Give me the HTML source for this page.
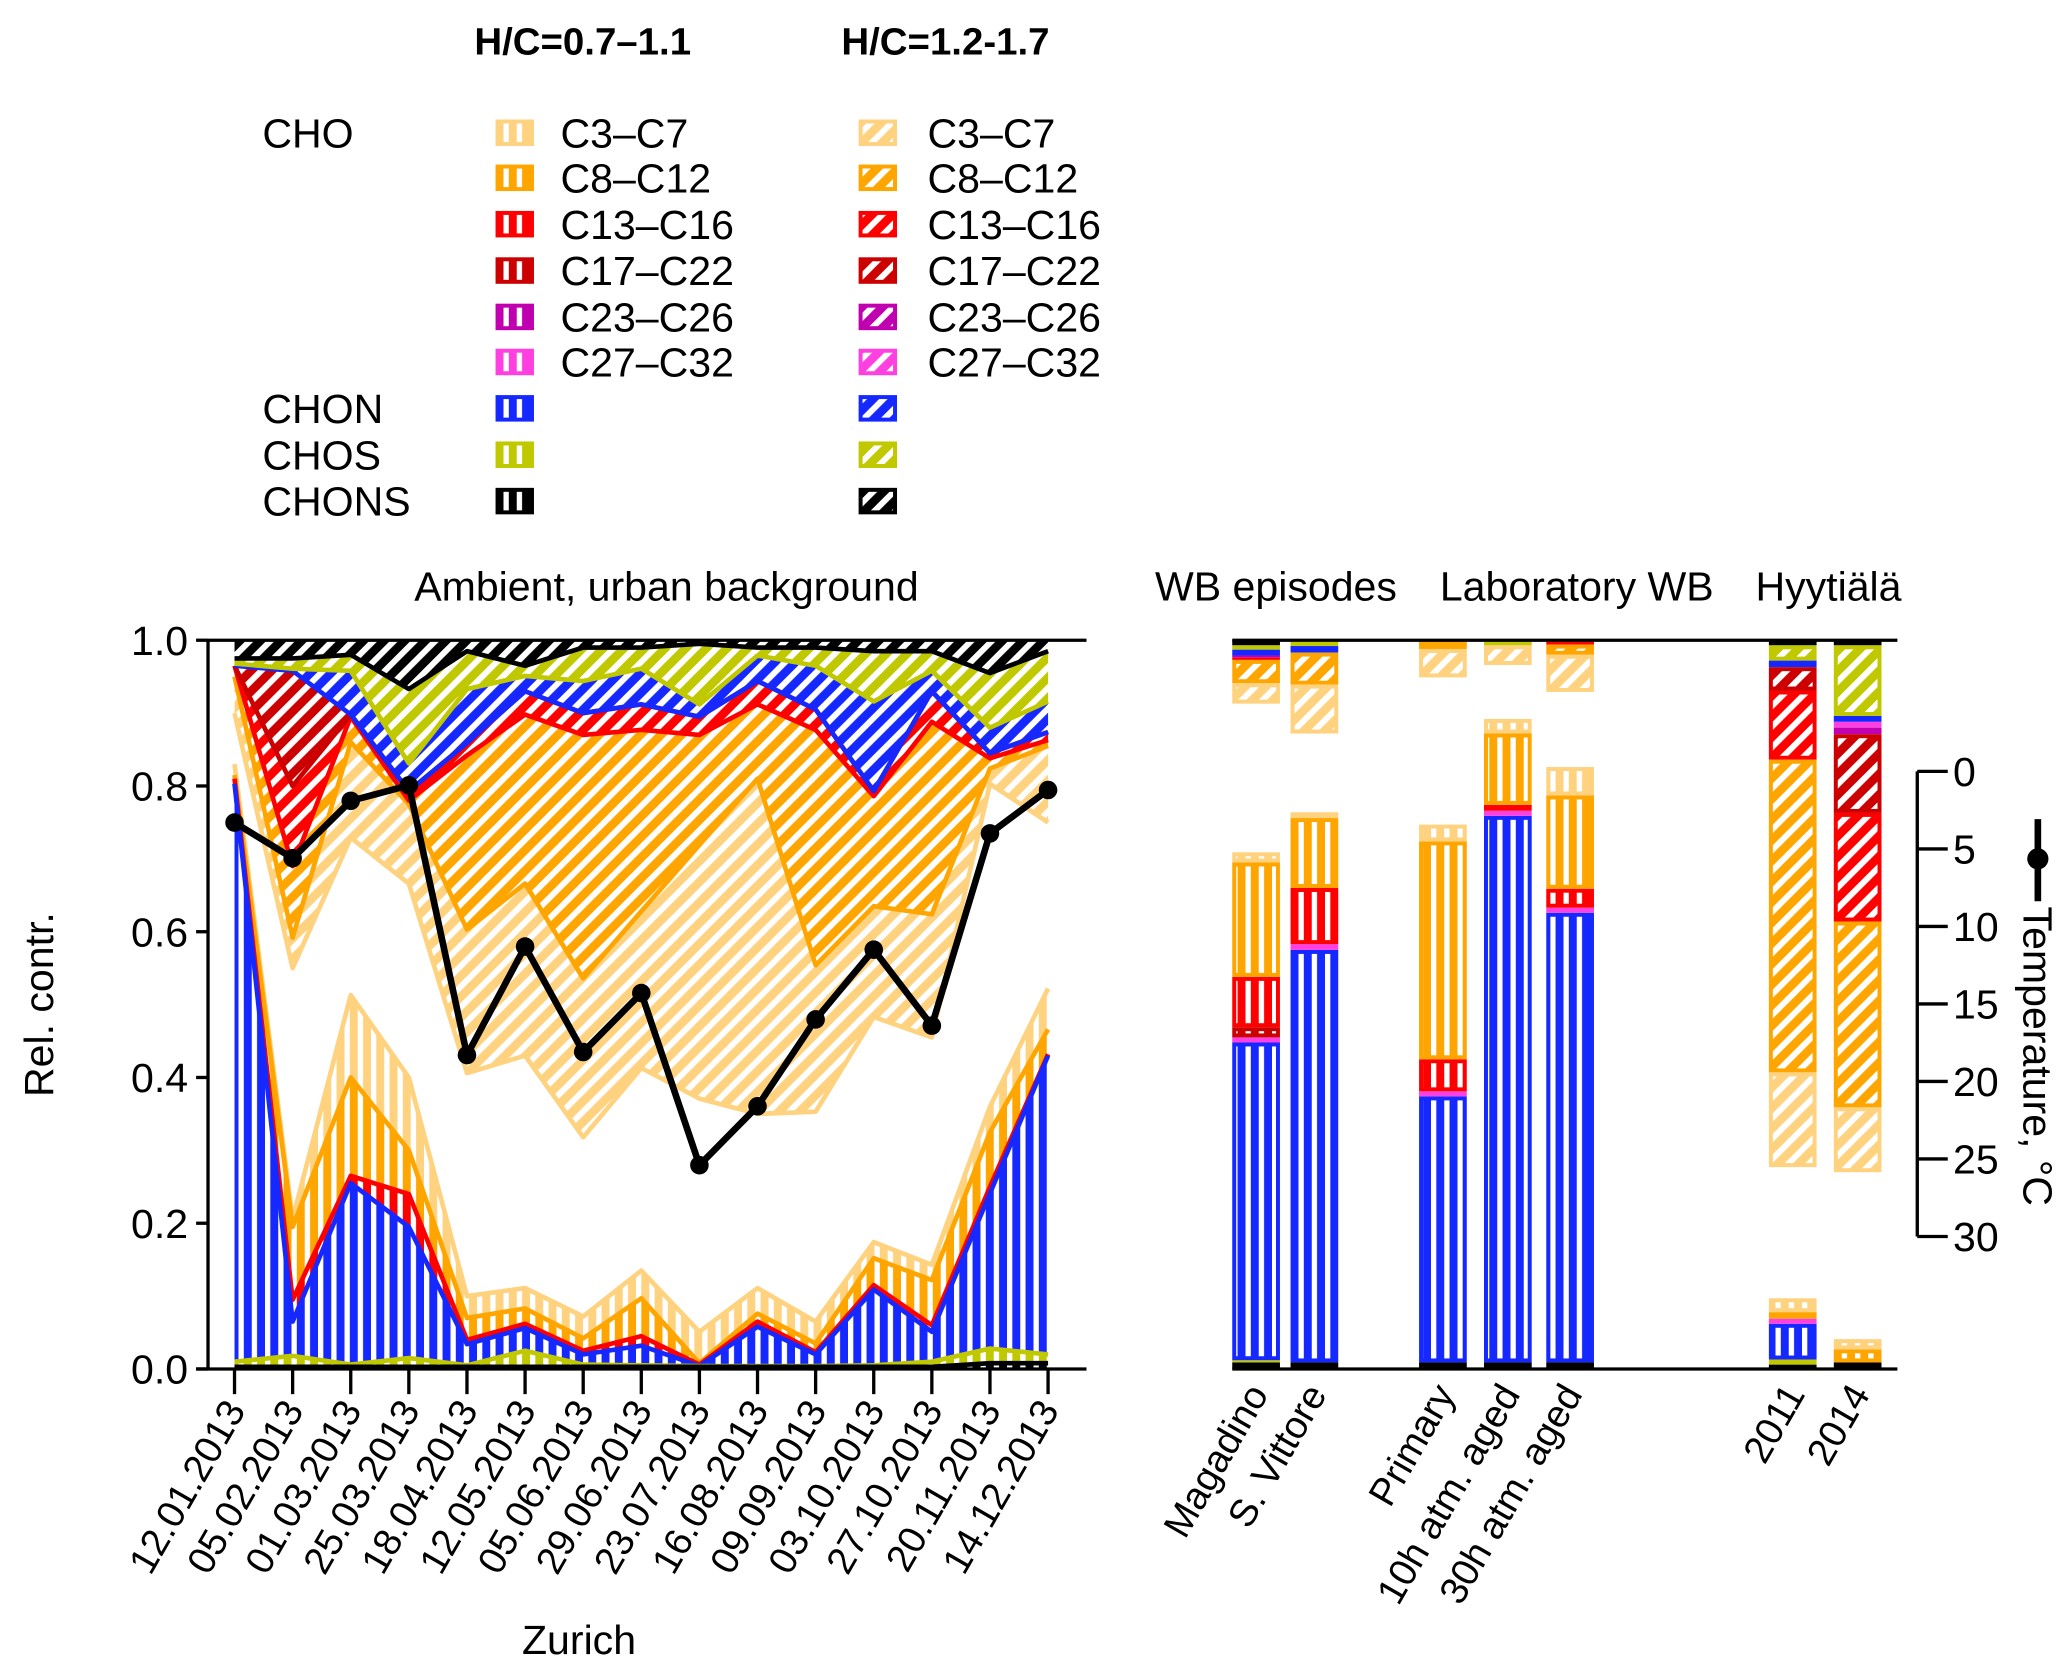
<!DOCTYPE html>
<html><head><meta charset="utf-8"><style>
html,body{margin:0;padding:0;background:#fff}
svg{display:block}
text{font-family:"Liberation Sans",Arial,sans-serif;fill:#000}
</style></head><body>
<svg id="chart" width="2067" height="1670" viewBox="0 0 1560 1260" xmlns="http://www.w3.org/2000/svg">
<defs id="defs"></defs>
<g id="legend"></g>
<g id="area"></g>
<g id="bars"></g>
<g id="axes"></g>
</svg>
<script>
// ---- Zurich time series data ----
const dates=["12.01.2013","05.02.2013","01.03.2013","25.03.2013","18.04.2013","12.05.2013","05.06.2013","29.06.2013","23.07.2013","16.08.2013","09.09.2013","03.10.2013","27.10.2013","20.11.2013","14.12.2013"];
// vertical-hatched (H/C 0.7-1.1) cumulative levels from bottom
const bCHONS=[.003,.003,.003,.003,.003,.003,.003,.003,.003,.003,.003,.003,.003,.008,.008];
const bCHOS=[.01,.018,.006,.015,.005,.025,.006,.005,.004,.004,.004,.005,.01,.028,.02];
const bCHON=[.803,.065,.255,.195,.034,.056,.02,.032,.004,.058,.02,.109,.051,.241,.43];
const bC13=[.81,.095,.265,.24,.04,.062,.025,.045,.006,.065,.023,.115,.06,.25,.432];
const bC8=[.815,.195,.40,.30,.07,.083,.042,.097,.008,.076,.035,.152,.122,.325,.466];
const bC3=[.83,.206,.513,.40,.10,.111,.072,.135,.051,.111,.065,.174,.143,.36,.522];
// diagonal-hatched (H/C 1.2-1.7) cumulative levels from top
const tCHONS=[.975,.975,.98,.933,.985,.965,.99,.99,.995,.99,.99,.985,.985,.955,.985];
const tCHOS=[.968,.961,.958,.831,.933,.951,.944,.961,.912,.979,.965,.916,.958,.88,.916];
const tCHON=[.965,.958,.898,.793,.859,.93,.90,.912,.895,.944,.905,.793,.93,.845,.874];
const tC17=[.965,.80,.898,.793,.859,.93,.90,.912,.895,.944,.905,.793,.93,.845,.874];
const tC13=[.965,.69,.895,.78,.842,.898,.87,.877,.87,.912,.877,.786,.888,.838,.863];
const tC8=[.95,.592,.86,.775,.603,.666,.536,.628,.719,.81,.554,.635,.624,.824,.855];
const tC3=[.90,.55,.729,.666,.406,.43,.318,.413,.371,.35,.353,.483,.455,.803,.75];
const temperature=[3.3,5.6,1.9,0.9,18.3,11.3,18.1,14.3,25.4,21.6,16.0,11.5,16.4,4.0,1.2];
const yTicks=[0,0.2,0.4,0.6,0.8,1.0];
const tempTicks=[0,5,10,15,20,25,30];
// ---- bar data ----
const barNames=["Magadino","S. Vittore","Primary","10h atm. aged","30h atm. aged","2011","2014"];
const vCHONS=[.009,.009,.009,.009,.009,.006,.009];
const vCHOS=[.003,0,0,0,0,.007,0];
const vCHON=[.436,.566,.365,.75,.617,.049,0];
const vC27=[.007,.008,.007,.007,.007,.007,0];
const vC23=[0,0,0,0,0,0,0];
const vC17=[.014,0,0,0,0,0,0];
const vC13=[.069,.077,.044,.008,.026,0,0];
const vC8=[.157,.096,.299,.098,.128,.009,.018];
const vC3=[.014,.008,.023,.02,.039,.019,.014];
const dCHONS=[.007,0,0,0,.002,.007,.007];
const dCHOS=[.006,.008,0,.007,0,.021,.097];
const dCHON=[.008,.009,0,0,0,.009,.008];
const dC27=[0,0,0,0,0,0,.008];
const dC23=[.003,0,0,0,0,0,.009];
const dC17=[0,0,0,0,0,.032,.108];
const dC13=[.003,0,0,0,.004,.095,.149];
const dC8=[.032,.044,.012,0,.014,.429,.255];
const dC3=[.028,.067,.039,.027,.051,.13,.089];

const NS="http://www.w3.org/2000/svg";
const COL={C3:"#ffd27f",C8:"#ffa500",C13:"#ff0000",C17:"#cc0000",C23:"#c000b0",C27:"#ff40e0",CHON:"#1428ff",CHOS:"#c0c800",CHONS:"#000000"};
function mk(tag,attrs,parent){const e=document.createElementNS(NS,tag);for(const k in attrs)e.setAttribute(k,attrs[k]);if(parent)parent.appendChild(e);return e;}
const defsEl=document.getElementById('defs');
for(const k in COL){
  const pv=mk('pattern',{id:'v-'+k,width:10,height:10,patternUnits:'userSpaceOnUse'},defsEl);
  mk('rect',{width:10,height:10,fill:COL[k]},pv);mk('rect',{x:0,width:4,height:10,fill:'#fff'},pv);
  const pd=mk('pattern',{id:'d-'+k,width:11,height:11,patternUnits:'userSpaceOnUse',patternTransform:'rotate(45)'},defsEl);
  mk('rect',{width:11,height:11,fill:COL[k]},pd);mk('rect',{x:0,width:4.5,height:11,fill:'#fff'},pd);
}
// ---- scales ----
const X0=177,X1=791,Y0=1033,Y1=483;
const xs=i=>X0+(X1-X0)*i/(dates.length-1);
const ys=v=>Y0-(Y0-Y1)*v;
const TY0=582,TY1=933;
const ty=t=>TY0+(TY1-TY0)*t/30;

// ---- area chart ----
const areaG=document.getElementById('area');
const zeros=dates.map(()=>0), ones=dates.map(()=>1);
function poly(lo,hi){let p=[];hi.forEach((v,i)=>p.push(xs(i)+','+ys(v)));for(let i=lo.length-1;i>=0;i--)p.push(xs(i)+','+ys(lo[i]));return p.join(' ');}
function lineStr(a){return a.map((v,i)=>xs(i)+','+ys(v)).join(' ');}
const bottomLayers=[[zeros,bCHONS,'CHONS'],[bCHONS,bCHOS,'CHOS'],[bCHOS,bCHON,'CHON'],[bCHON,bC13,'C13'],[bC13,bC8,'C8'],[bC8,bC3,'C3']];
const topLayers=[[tCHONS,ones,'CHONS'],[tCHOS,tCHONS,'CHOS'],[tCHON,tCHOS,'CHON'],[tC17,tCHON,'C17'],[tC13,tC17,'C13'],[tC8,tC13,'C8'],[tC3,tC8,'C3']];
bottomLayers.forEach(([lo,hi,k])=>{
  const p=mk('polygon',{points:poly(lo,hi),fill:'url(#v-'+k+')'},areaG);
  
  
});
topLayers.forEach(([lo,hi,k])=>{
  const p=mk('polygon',{points:poly(lo,hi),fill:'url(#d-'+k+')'},areaG);
  
  
});
bottomLayers.slice().reverse().forEach(([lo,hi,k])=>{
  const l=mk('polyline',{points:lineStr(hi),fill:'none',stroke:COL[k],'stroke-width':3.5,'stroke-linejoin':'round'},areaG);
  
  
});
topLayers.slice().reverse().forEach(([lo,hi,k])=>{
  const l=mk('polyline',{points:lineStr(lo),fill:'none',stroke:COL[k],'stroke-width':3.5,'stroke-linejoin':'round'},areaG);
  
  
});
// temperature
const tl=mk('polyline',{points:temperature.map((t,i)=>xs(i)+','+ty(t)).join(' '),fill:'none',stroke:'#000','stroke-width':5,'stroke-linejoin':'round'},areaG);


temperature.forEach((t,i)=>{
  const c=mk('circle',{cx:xs(i),cy:ty(t),r:7,fill:'#000'},areaG);
  
  
});

// ---- bars ----
const barsG=document.getElementById('bars');
const barX=[930,974,1071,1120,1167,1335,1384], BW=36;
const vList=[['CHONS',vCHONS],['CHOS',vCHOS],['CHON',vCHON],['C27',vC27],['C23',vC23],['C17',vC17],['C13',vC13],['C8',vC8],['C3',vC3]];
const dList=[['CHONS',dCHONS],['CHOS',dCHOS],['CHON',dCHON],['C27',dC27],['C23',dC23],['C17',dC17],['C13',dC13],['C8',dC8],['C3',dC3]];
function seg(bx,v0,v1,k,kind){
  const ya=ys(v1),yb=ys(v0),h=yb-ya;
  let r;
  if(h<7){r=mk('rect',{x:bx,y:ya,width:BW,height:h,fill:COL[k]},barsG);}
  else{r=mk('rect',{x:bx+1.5,y:ya+1.5,width:BW-3,height:h-3,fill:'url(#'+kind+'-'+k+')',stroke:COL[k],'stroke-width':3},barsG);}
  
  
}
barNames.forEach((n,b)=>{
  let c=0;
  vList.forEach(([k,a])=>{if(a[b]>0){seg(barX[b],c,c+a[b],k,'v');c+=a[b];}});
  c=1;
  dList.forEach(([k,a])=>{if(a[b]>0){seg(barX[b],c-a[b],c,k,'d');c-=a[b];}});
});

// ---- axes ----
const axG=document.getElementById('axes');
function L(x1,y1,x2,y2,name,w){const e=mk('line',{x1,y1,x2,y2,stroke:'#000','stroke-width':w||2.5},axG);return e;}
function T(txt,xx,yy,attrs,name){const e=mk('text',Object.assign({x:xx,y:yy,'font-size':31},attrs||{}),axG);e.textContent=txt;return e;}
L(157,483,157,1033,'y-axis-line');L(157,483,820,483,'top-frame-line');L(148,1033,820,1033,'x-axis-line');
yTicks.forEach(v=>{L(148,ys(v),157,ys(v),'y-tick');T(v.toFixed(1),142,ys(v)+11,{'text-anchor':'end'},'y-tick-label');});
dates.forEach((d,i)=>{L(xs(i),1033,xs(i),1052,'x-tick');T(d,xs(i)+9,1064,{'text-anchor':'end','font-size':29,transform:`rotate(-60 ${xs(i)+9} 1064)`},'x-tick-label');});
T('Rel. contr.',40,758,{'text-anchor':'middle',transform:'rotate(-90 40 758)'},'y-axis-title');
T('Zurich',437,1248,{'text-anchor':'middle'},'x-axis-title');
T('Ambient, urban background',503,453,{'text-anchor':'middle'},'panel-title-ambient');
L(930,483,1432,483,'bars-top-line');L(930,1033,1432,1033,'bars-bottom-line');
T('WB episodes',963,453,{'text-anchor':'middle'},'panel-title-wb-episodes');
T('Laboratory WB',1190,453,{'text-anchor':'middle'},'panel-title-laboratory');
T('Hyytiälä',1380,453,{'text-anchor':'middle'},'panel-title-hyytiala');
barNames.forEach((n,b)=>{const cx=barX[b]+BW/2+10;T(n,cx,1052,{'text-anchor':'end','font-size':29,transform:`rotate(-60 ${cx} 1052)`},'bar-label');});
// temperature axis
L(1447,TY0,1447,TY1,'temperature-axis-line');
tempTicks.forEach(t=>{L(1447,ty(t),1470,ty(t),'temperature-tick');T(String(t),1474,ty(t)+11,{},'temperature-tick-label');});
L(1538,618,1538,680,'temperature-legend-line',5);
const tc=mk('circle',{cx:1538,cy:648,r:8,fill:'#000'},axG);


T('Temperature, °C',1527,684,{transform:'rotate(90 1527 684)'},'temperature-axis-title');

// ---- legend ----
const lgG=document.getElementById('legend');
function LT(txt,xx,yy,attrs,name){const e=mk('text',Object.assign({x:xx,y:yy,'font-size':31},attrs||{}),lgG);e.textContent=txt;}
LT('H/C=0.7–1.1',358,41,{'font-weight':'bold','font-size':29},'legend-header-low-hc');
LT('H/C=1.2-1.7',635,41,{'font-weight':'bold','font-size':29},'legend-header-high-hc');
const legKeys=['C3','C8','C13','C17','C23','C27','CHON','CHOS','CHONS'];
const legLabels=['C3–C7','C8–C12','C13–C16','C17–C22','C23–C26','C27–C32','','',''];
const rowY=[100,134,169,204,239,273,308,343,378];
LT('CHO',198,111,{},'legend-group-cho');LT('CHON',198,319,{},'legend-group-chon');LT('CHOS',198,354,{},'legend-group-chos');LT('CHONS',198,389,{},'legend-group-chons');
legKeys.forEach((k,i)=>{
  const s1=mk('rect',{x:375.5,y:rowY[i]-8.5,width:26,height:17,fill:'url(#v-'+k+')',stroke:COL[k],'stroke-width':3},lgG);
  
  
  const s2=mk('rect',{x:649.5,y:rowY[i]-8.5,width:26,height:17,fill:'url(#d-'+k+')',stroke:COL[k],'stroke-width':3},lgG);
  
  
  if(legLabels[i]){LT(legLabels[i],423,rowY[i]+11,{},'legend-label');LT(legLabels[i],700,rowY[i]+11,{},'legend-label');}
});
</script>
</body></html>
